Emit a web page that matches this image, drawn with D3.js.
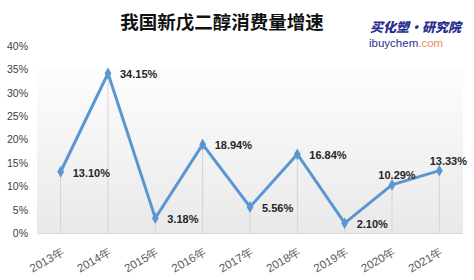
<!DOCTYPE html>
<html>
<head>
<meta charset="utf-8">
<script src="https://cdn.jsdelivr.net/npm/d3@7"></script>
<style>
  html, body { margin: 0; padding: 0; background: #ffffff; }
  svg { display: block; }
</style>
</head>
<body>
<svg id="chart" width="474" height="280"></svg>
<script>
const title = "我国新戊二醇消费量增速";
const categories = ["2013年", "2014年", "2015年", "2016年", "2017年", "2018年", "2019年", "2020年", "2021年"];
const growth = [0.1310, 0.3415, 0.0318, 0.1894, 0.0556, 0.1684, 0.0210, 0.1029, 0.1333];
const yTicks = [0, 0.05, 0.10, 0.15, 0.20, 0.25, 0.30, 0.35, 0.40];
const labelAbove = ["2020年", "2021年"];

(function () {
const svg = d3.select("#chart");
const mLeft = 37, mRight = 463, mTop = 46, mBottom = 233, plotTop = 68;

const x = d3.scalePoint().domain(categories).range([mLeft, mRight]).padding(0.5);
const y = d3.scaleLinear().domain([0, 0.4]).range([mBottom, mTop]);

// background gradient of plot area
const defs = svg.append("defs");
const grad = defs.append("linearGradient").attr("id", "bg").attr("x1", 0).attr("y1", 0).attr("x2", 0).attr("y2", 1);
grad.append("stop").attr("offset", "0%").attr("stop-color", "#fdfdfd");
grad.append("stop").attr("offset", "100%").attr("stop-color", "#e9e9e9");
svg.append("rect").attr("x", mLeft).attr("y", plotTop).attr("width", mRight - mLeft).attr("height", mBottom - plotTop)
  .attr("fill", "url(#bg)");

// title
svg.append("text").attr("x", 222).attr("y", 29).attr("text-anchor", "middle")
  .attr("font-family", "'Noto Sans CJK SC', sans-serif").attr("font-weight", "bold")
  .attr("font-size", 18.5).attr("fill", "#111").text(title);

// logo
svg.append("text").attr("x", 370).attr("y", 32)
  .attr("font-family", "'Noto Sans CJK SC', sans-serif").attr("font-weight", "900").attr("font-style", "italic")
  .attr("font-size", 13).attr("fill", "#2b2f8f")
  .text("买化塑·研究院");
const logo2 = svg.append("text").attr("x", 369).attr("y", 47)
  .attr("font-family", "'Liberation Sans', Arial, sans-serif").attr("font-size", 11.5);
logo2.append("tspan").attr("fill", "#2b2f8f").text("ibuychem");
logo2.append("tspan").attr("fill", "#ef8a5a").text(".com");

// y axis
const yAxis = d3.axisLeft(y).tickValues(yTicks).tickFormat(d3.format(".0%")).tickSize(0).tickPadding(0);
const yg = svg.append("g").attr("transform", `translate(${28},0)`).call(yAxis);
yg.select(".domain").remove();
yg.selectAll("text").attr("font-family", "'Liberation Sans', Arial, sans-serif").attr("font-size", 10.5)
  .attr("fill", "#404040");

// drop lines
svg.append("g").selectAll("line").data(categories).join("line")
  .attr("x1", d => x(d)).attr("x2", d => x(d))
  .attr("y1", (d, i) => y(growth[i])).attr("y2", mBottom)
  .attr("stroke", "#d4d4d4").attr("stroke-width", 1);

// x axis
const xAxis = d3.axisBottom(x).tickSize(0).tickPadding(0);
const xg = svg.append("g").attr("transform", `translate(0,${mBottom})`).call(xAxis);
xg.select(".domain").attr("stroke", "#d9d9d9").attr("d", `M${mLeft},0.5H${mRight}`);
xg.selectAll("text")
  .attr("font-family", "'Liberation Sans', Arial, sans-serif").attr("font-size", 11.5).attr("fill", "#595959")
  .attr("text-anchor", "end").attr("dy", null)
  .attr("transform", "translate(4,21) rotate(-30)");

// line
const line = d3.line().x((d, i) => x(categories[i])).y(d => y(d));
svg.append("path").datum(growth).attr("d", line).attr("fill", "none")
  .attr("stroke", "#5a96d2").attr("stroke-width", 3).attr("stroke-linejoin", "miter");

// markers
svg.append("g").selectAll("path").data(growth).join("path")
  .attr("d", d3.symbol().type(d3.symbolDiamond).size(40))
  .attr("transform", (d, i) => `translate(${x(categories[i])},${y(d)})`)
  .attr("fill", "#5a96d2");

// labels
svg.append("g").selectAll("text").data(growth).join("text")
  .attr("x", (d, i) => labelAbove.includes(categories[i]) ? x(categories[i]) + (i === 7 ? 5 : 9) : x(categories[i]) + 12)
  .attr("y", (d, i) => labelAbove.includes(categories[i]) ? y(d) - 6 : y(d) + 5)
  .attr("text-anchor", (d, i) => labelAbove.includes(categories[i]) ? "middle" : "start")
  .attr("font-family", "'Liberation Sans', Arial, sans-serif").attr("font-weight", "bold")
  .attr("font-size", 11).attr("fill", "#262626")
  .text(d => d3.format(".2%")(d));
})();
</script>
</body>
</html>
